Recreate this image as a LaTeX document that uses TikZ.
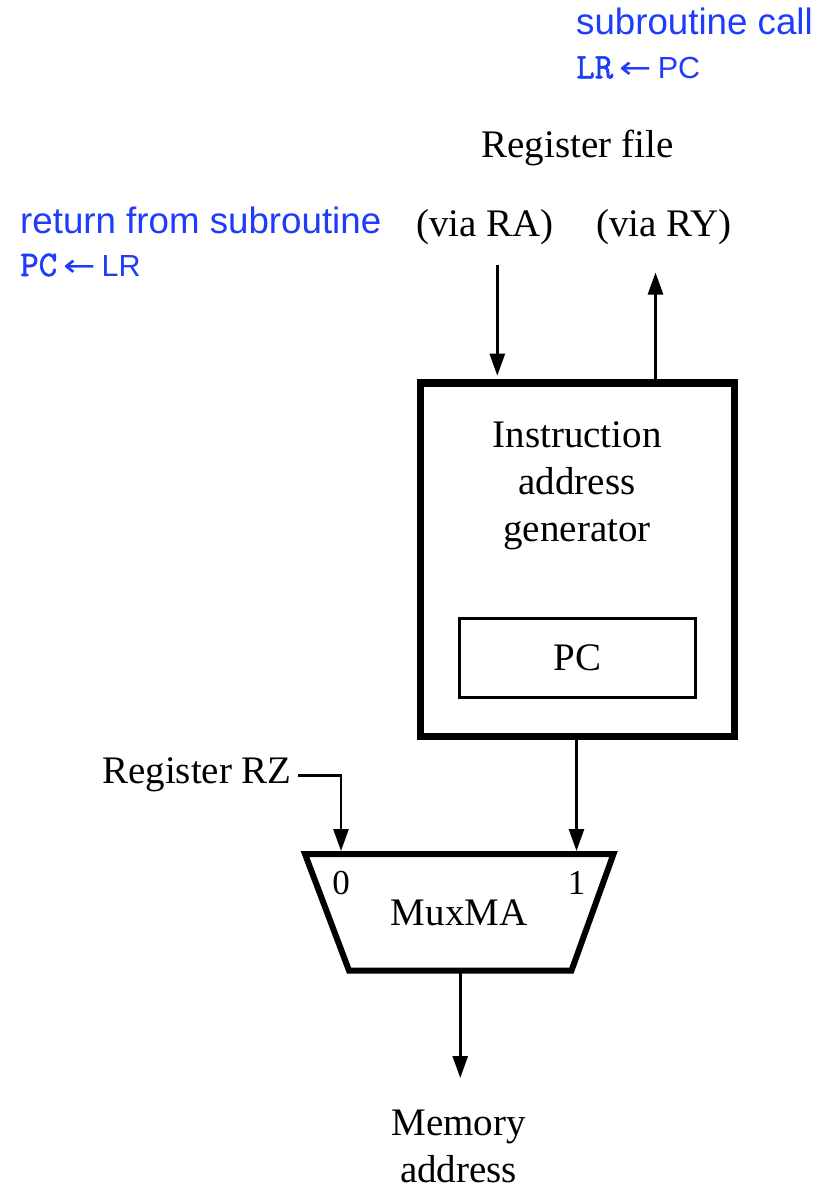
\documentclass[tikz,border=0pt]{standalone}
\usepackage{fontspec}
\usepackage{graphicx}
\setmainfont{Liberation Serif}
\newfontfamily\notesans{Liberation Sans}
\newfontfamily\notemono[FakeBold=1.6]{Latin Modern Mono}
\newfontfamily\notearrow{DejaVu Sans}
\usetikzlibrary{arrows.meta,calc}
\definecolor{noteblue}{RGB}{30,60,250}
\newcommand{\serifsize}{\fontsize{39}{47}\selectfont}
% register transfer "dst <- src": destination in mono, source in sans
\newcommand{\transfer}[2]{{\notemono\fontsize{36}{40}\selectfont #1}\hspace{6pt}\scalebox{1.25}[1]{\notearrow\fontsize{31}{40}\selectfont ←}\hspace{6pt}{\notesans\fontsize{30.5}{36}\selectfont #2}}

\begin{document}
\begin{tikzpicture}[x=1pt,y=-1pt,
  lbl/.style={font=\serifsize, inner sep=0pt},
  note/.style={text=noteblue, inner sep=0pt, font=\notesans\fontsize{36.7}{44}\selectfont},
  wire/.style={line width=2.7pt},
  arr/.style={wire, -{Triangle[length=22pt,width=15pt]}},
  heavybox/.style={draw, line width=7.3pt, inner sep=0pt},
]
\fill[white] (0,0) rectangle (825,1189);
\useasboundingbox (0,0) rectangle (825,1189);

% annotations in blue
\node[note, anchor=base west] (callnote) at (576,34.3) {subroutine call};
\node[note, anchor=base west] (callrtl) at (576,78.3) {\transfer{LR}{PC}};
\node[note, anchor=base west] (retnote) at (20,233.3) {return from subroutine};
\node[note, anchor=base west] (retrtl) at (20,276) {\transfer{PC}{LR}};

% register file ports
\node[lbl, anchor=base] (regfile) at (577.5,157.3) {Register file};
\node[lbl, anchor=base] (viaRA) at (485,236.7) {(via RA)};
\node[lbl, anchor=base] (viaRY) at (664.2,236.7) {(via RY)};

% instruction address generator with the PC inside
\node[heavybox, minimum width=314pt, minimum height=353.3pt] (iag) at (577.2,559.7) {};
\node[lbl, align=center, anchor=north] (iagtext) at (577,421.7) {Instruction\\address\\generator};
\node[lbl, draw, line width=2.6pt, minimum width=236pt, minimum height=79.4pt] (pc) at (577.3,658) {PC};

% port connections
\coordinate (raTop) at (497.3,265);
\coordinate (ryTop) at (655.5,272.5);
\draw[arr, shorten >=3.7pt] (raTop) -- (raTop |- iag.north);
\draw[arr] (ryTop |- iag.north) -- (ryTop);

% multiplexer MuxMA
\coordinate (mtl) at (305,854);
\coordinate (mtr) at (613.5,854);
\coordinate (mbr) at (571.5,970.5);
\coordinate (mbl) at (349,970.5);
\draw[line width=6pt, line join=miter] (mtl) -- (mtr) -- (mbr) -- (mbl) -- cycle;
\node[lbl, anchor=base] (muxlabel) at (459.2,925) {MuxMA};
\node[lbl, anchor=base, font=\fontsize{35}{42}\selectfont] (sel0) at (341,894) {0};
\node[lbl, anchor=base, font=\fontsize{35}{42}\selectfont] (sel1) at (576.5,894) {1};

\coordinate (in0) at (341,851);
\coordinate (in1) at (576.5,851);
\coordinate (mout) at ($(mbl)!0.5!(mbr)$);

% inputs of the multiplexer
\node[lbl, anchor=base east] (rz) at (292,783.3) {Register RZ};
\draw[arr] ([shift={(6,-8)}]rz.base east) -| (in0);
\draw[arr] (iag.south -| in1) -- (in1);

% output to memory
\node[lbl, align=center, anchor=north] (mem) at (458.5,1110) {Memory\\address};
\coordinate (memIn) at (mout |- 0,1078);
\draw[arr] (mout) -- (memIn);
\end{tikzpicture}
\end{document}
